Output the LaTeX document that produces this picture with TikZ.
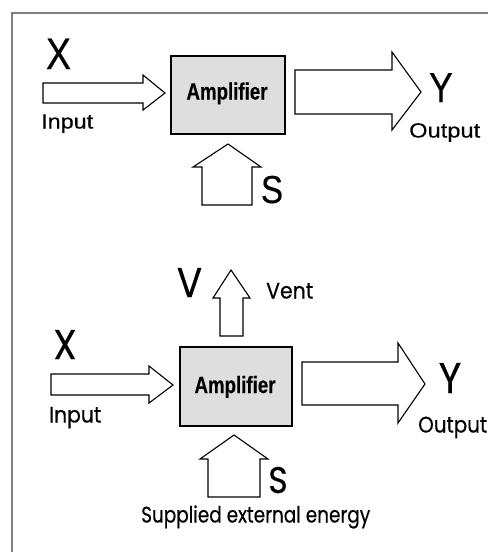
\documentclass[tikz,border=0pt]{standalone}
\usepackage{fontspec}
\usepackage{graphicx}
\setmainfont{Liberation Sans}
\newfontfamily\geo[FakeBold=0.4]{Poppins}
\newfontfamily\plain[FakeBold=0.4]{Liberation Sans}
\newfontfamily\ampfont[FakeBold=0.5]{Liberation Sans}
\newsavebox\fitbox
\newcommand\fitw[2]{\sbox\fitbox{#2}\edef\fitsx{\fpeval{(#1)/(\wd\fitbox)}}\scalebox{\fitsx}[1]{\usebox\fitbox}}
\begin{document}
\begin{tikzpicture}[x=1pt,y=-1pt,
  blockarrow/.style={draw=black,line width=1.1pt,fill=white,line join=miter},
  ampbox/.style={draw=black,line width=2.6pt,fill=black!13,inner sep=0pt},
  lettertop/.style={anchor=base,inner sep=0pt},
  smalllab/.style={anchor=base west,inner sep=0pt,font=\plain\fontsize{20.5}{20.5}\selectfont},
  geolab/.style={anchor=base west,inner sep=0pt,font=\geo\fontsize{22.5}{22.5}\selectfont},
  geobig/.style={anchor=base,inner sep=0pt},
  amptext/.style={anchor=base,inner sep=0pt,font=\ampfont\bfseries\fontsize{23.5}{23.5}\selectfont}]
\useasboundingbox (0,0) rectangle (488,552);
\fill[white] (0,0) rectangle (488,552);
\draw[black!50,line width=1.3pt] (12,552) -- (12,13) -- (488,13);

% ---------- top diagram ----------
\node[ampbox,minimum width=114pt,minimum height=78pt] (amp1) at (228,95) {};
\node[amptext] (amp1t) at (227,99.5) {\fitw{81pt}{Amplifier}};
\draw[blockarrow] (43,83) -- (143,83) -- (143,75) -- (165,93) -- (143,110) -- (143,103) -- (43,103) -- cycle;
\draw[blockarrow] (295,70) -- (392,70) -- (392,52) -- (421,92) -- (392,130) -- (392,114) -- (295,114) -- cycle;
\draw[blockarrow] (202,205) -- (202,167) -- (193,167) -- (228,144) -- (261,167) -- (252,167) -- (252,205) -- cycle;
\node[lettertop,font=\plain\fontsize{44}{44}\selectfont] (x1) at (58.5,69) {\scalebox{0.85}[1]{X}};
\node[smalllab] (in1) at (41,128.5) {\fitw{52pt}{Input}};
\node[lettertop,font=\plain\fontsize{42}{42}\selectfont] (y1) at (441,102) {\scalebox{0.85}[1]{Y}};
\node[smalllab] (out1) at (409,137.5) {\fitw{71pt}{Output}};
\node[lettertop,font=\plain\fontsize{39}{39}\selectfont] (s1) at (272,203) {\scalebox{0.85}[1]{S}};

% ---------- bottom diagram ----------
\node[ampbox,minimum width=112pt,minimum height=79pt] (amp2) at (236,386.5) {};
\node[amptext] (amp2t) at (235,393) {\fitw{81pt}{Amplifier}};
\draw[blockarrow] (220,336) -- (220,298) -- (213,298) -- (231,270) -- (250,298) -- (243,298) -- (243,336) -- cycle;
\draw[blockarrow] (51,374) -- (149,374) -- (149,366) -- (173,385) -- (149,403) -- (149,395) -- (51,395) -- cycle;
\draw[blockarrow] (302,362) -- (398,362) -- (398,343) -- (425,384) -- (398,423) -- (398,405) -- (302,405) -- cycle;
\draw[blockarrow] (208,497) -- (208,459) -- (200,459) -- (234,435) -- (268,459) -- (260,459) -- (260,497) -- cycle;
\node[geobig,font=\geo\fontsize{41.5}{41.5}\selectfont] (v2) at (189.5,297) {\scalebox{0.9}[1]{V}};
\node[geolab] (vent2) at (266,298.5) {\fitw{47pt}{Vent}};
\node[geobig,font=\geo\fontsize{41.5}{41.5}\selectfont] (x2) at (65,359) {\scalebox{0.9}[1]{X}};
\node[geolab] (in2) at (49,422.5) {\fitw{52pt}{Input}};
\node[geobig,font=\geo\fontsize{43}{43}\selectfont] (y2) at (450,393) {\scalebox{0.9}[1]{Y}};
\node[geolab] (out2) at (418,432.5) {\fitw{69pt}{Output}};
\node[geobig,font=\geo\fontsize{37}{37}\selectfont] (s2) at (278,493) {\scalebox{0.9}[1]{S}};
\node[geolab] (sup2) at (141,522.5) {\fitw{229pt}{Supplied external energy}};
\end{tikzpicture}
\end{document}
